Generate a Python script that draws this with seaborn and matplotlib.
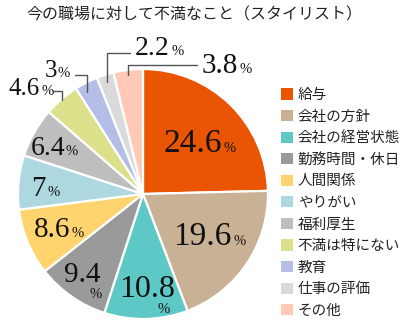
import matplotlib
matplotlib.use('Agg')
import matplotlib.pyplot as plt
import seaborn as sns
from matplotlib.patches import Patch

# ---- data ----
categories = ['給与', '会社の方針', '会社の経営状態', '勤務時間・休日', '人間関係',
              'やりがい', '福利厚生', '不満は特にない', '教育', '仕事の評価', 'その他']
values = [24.6, 19.6, 10.8, 9.4, 8.6, 7, 6.4, 4.6, 3, 2.2, 3.8]
value_labels = ['24.6', '19.6', '10.8', '9.4', '8.6', '7', '6.4', '4.6', '3', '2.2', '3.8']
colors = ['#EA5504', '#C9B196', '#5EC8C6', '#9A9A9A', '#FFD36E', '#ADD8E0',
          '#BEBEBE', '#DCE08A', '#B4BEE6', '#DADADA', '#FFC9B5']
title = '今の職場に対して不満なこと（スタイリスト）'

sns.set_theme(style='white')
plt.rcParams['font.family'] = ['Noto Sans CJK JP', 'DejaVu Sans']

W, H = 400, 322
fig = plt.figure(figsize=(4, 3.22), dpi=100)
ax = fig.add_axes([0, 0, 1, 1])

ax.pie(values, colors=colors, startangle=90, counterclock=False,
       center=(143, H - 194), radius=125,
       wedgeprops=dict(edgecolor='white', linewidth=1.6))
ax.set_xlim(0, W)
ax.set_ylim(0, H)
ax.set_aspect('equal')
ax.axis('off')

# label layout: (mode, number x, number baseline, number size, pct x, pct baseline)
layout = [
    ('r', 222, 152, 24, None, None),
    ('r', 232, 245, 24, None, None),
    ('c', 147, 297, 23, 158, 313),
    ('c', 82, 282, 21, 90, 298),
    ('r', 70, 237, 21, None, None),
    ('r', 46, 196, 21, None, None),
    ('r', 65, 155, 20, None, None),
    ('r', 40, 95, 18, None, None),
    ('r', 57, 77, 18, None, None),
    ('r', 170, 55, 20, None, None),
    ('r', 238, 73, 21, None, None),
]
serif = 'Liberation Serif'
for lab, (mode, nx, nb, size, px, pb) in zip(value_labels, layout):
    if mode == 'r':
        ax.text(nx, H - nb, lab, ha='right', va='baseline', fontsize=size,
                family=serif, color='#111111')
        ax.text(nx + 1, H - nb, '%', ha='left', va='baseline', fontsize=10.5,
                family=serif, color='#111111')
    else:
        ax.text(nx, H - nb, lab, ha='center', va='baseline', fontsize=size,
                family=serif, color='#111111')
        ax.text(px, H - pb, '%', ha='left', va='baseline', fontsize=10.5,
                family=serif, color='#111111')

# leader lines for small slices
leaders = [
    [(53, 91), (62, 91), (62, 100)],
    [(75, 75), (87, 75), (87, 92)],
    [(130, 53), (107, 53), (107, 82)],
    [(197, 65), (128, 65), (128, 75)],
]
for pts in leaders:
    xs = [p[0] for p in pts]
    ys = [H - p[1] for p in pts]
    ax.plot(xs, ys, color='#555555', lw=1.0, clip_on=False)

ax.text(194, H - 15, title, ha='center', va='center', fontsize=11.5, color='#222222')

handles = [Patch(facecolor=c, edgecolor='none') for c in colors]
ax.legend(handles, categories, loc='upper left', bbox_to_anchor=(281 / W, 1 - 88 / H),
          frameon=False, fontsize=10.5, handlelength=0.8, handleheight=0.8,
          handletextpad=0.35, labelspacing=0.52, borderpad=0, borderaxespad=0,
          labelcolor='#222222')

fig.savefig('out.png', dpi=100)
